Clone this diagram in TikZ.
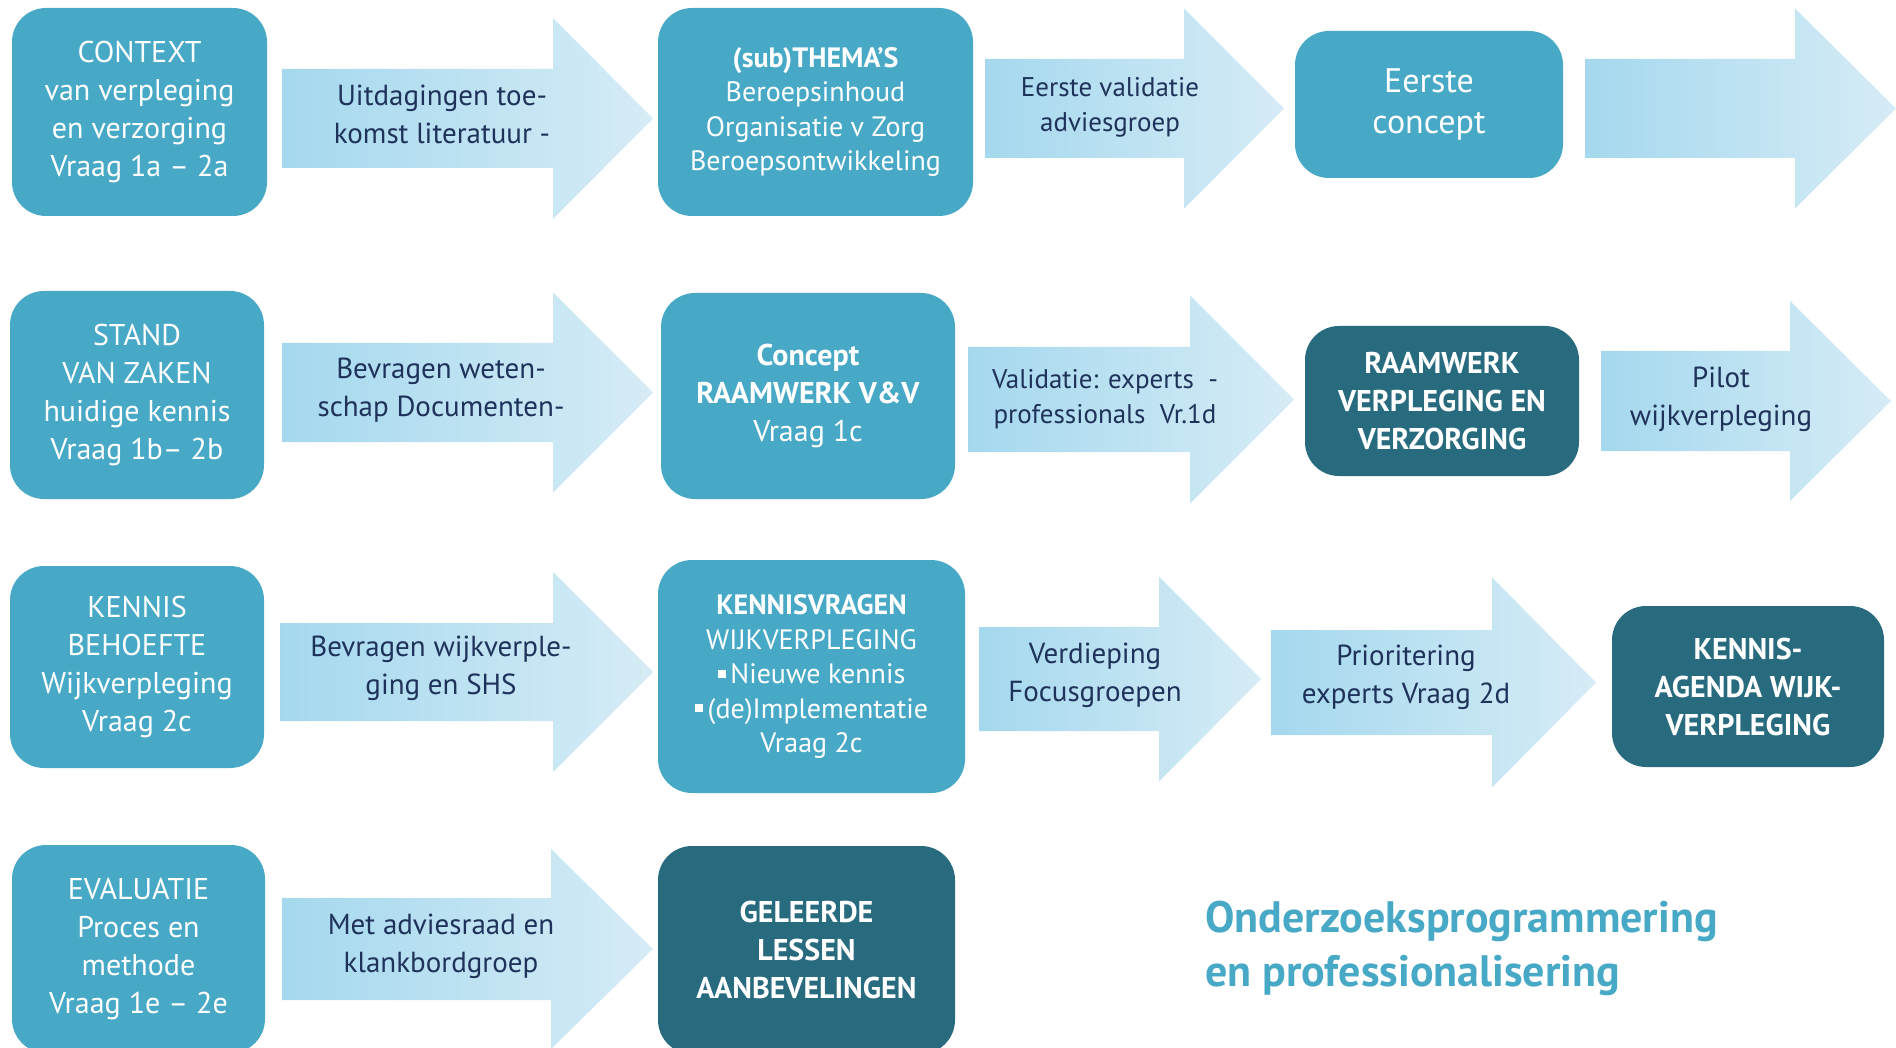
\documentclass[tikz,border=0pt]{standalone}
\usepackage{fontspec}
\setmainfont{PT Sans}
\usetikzlibrary{positioning}
\definecolor{box blue}{RGB}{72,169,199}
\definecolor{box dark}{RGB}{40,107,127}
\definecolor{arrow deep}{RGB}{165,216,238}
\definecolor{arrow pale}{RGB}{214,236,246}
\definecolor{arrow text}{RGB}{30,50,90}

% tail x, neck x, tip x, centre y, half body, half head
\newcommand{\flowarrow}[6]{%
	\path[flow arrow] (#1,#4-#5) -- (#2,#4-#5) -- (#2,#4-#6) -- (#3,#4)
		-- (#2,#4+#6) -- (#2,#4+#5) -- (#1,#4+#5) -- cycle;}
\newcommand{\sqbullet}{\raisebox{0.2em}{\rule{4pt}{4pt}}\,}

\begin{document}
\begin{tikzpicture}[x=0.5pt, y=-0.5pt,
					flow box/.style={rounded corners=17pt, fill=box blue, text=white, align=center, inner sep=0pt, font=\fontsize{15}{19}\selectfont},
					dark box/.style={flow box, fill=box dark, font=\bfseries\fontsize{15}{19}\selectfont},
					flow arrow/.style={left color=arrow deep, right color=arrow pale},
					arrow label/.style={text=arrow text, align=center, font=\fontsize{14.5}{19}\selectfont},
				]
					\useasboundingbox (0,0) rectangle (1896,1048);
					\clip (0,0) rectangle (1896,1048);
					
					% arrows
					\flowarrow{282}{553}{653}{118.5}{49.5}{100.5}
					\flowarrow{985}{1184}{1284}{108.5}{49.5}{100}
					\flowarrow{1585}{1795}{1896}{108.5}{49.5}{100}
					\flowarrow{282}{553}{653}{392.5}{49.5}{100}
					\flowarrow{968}{1190}{1294}{399.5}{52.5}{104}
					\flowarrow{1601}{1790}{1891}{401}{50}{100}
					\flowarrow{280}{553}{653}{672}{49}{100}
					\flowarrow{979}{1159}{1261}{679}{52}{102.5}
					\flowarrow{1271}{1492}{1596}{682.5}{52.5}{105}
					\flowarrow{282}{551}{653}{949}{51}{100}
					
					% boxes
					\node[flow box, minimum width=127.5pt, minimum height=104pt] (context) at (139.5,112) {CONTEXT\\van verpleging\\en verzorging\\Vraag 1a -- 2a};
					\node[flow box, minimum width=157.5pt, minimum height=104pt, font=\fontsize{14}{17.25}\selectfont] (themas) at (815.5,112) {\textbf{(sub)THEMA’S}\\Beroepsinhoud\\Organisatie v Zorg\\Beroepsontwikkeling};
					\node[flow box, minimum width=134pt, minimum height=73.5pt, font=\fontsize{17}{20.5}\selectfont] (eerste) at (1429,104.5) {Eerste\\concept};
					\node[flow box, minimum width=127pt, minimum height=104pt] (stand) at (137,395) {STAND\\VAN ZAKEN\\huidige kennis\\Vraag 1b-- 2b};
					\node[flow box, minimum width=147pt, minimum height=103pt] (concept) at (808,396) {\textbf{Concept}\\\textbf{RAAMWERK V\&V}\\Vraag 1c};
					\node[dark box, minimum width=137pt, minimum height=75pt] (raamwerk) at (1442,401) {RAAMWERK\\VERPLEGING EN\\VERZORGING};
					\node[flow box, minimum width=127pt, minimum height=101pt] (kennis) at (137,667) {KENNIS\\BEHOEFTE\\Wijkverpleging\\Vraag 2c};
					\node[flow box, minimum width=153.5pt, minimum height=116.5pt, font=\fontsize{14}{17.25}\selectfont] (vragen) at (811.5,676.5) {\textbf{KENNISVRAGEN}\\WIJKVERPLEGING\\\sqbullet Nieuwe kennis\\\sqbullet(de)Implementatie\\Vraag 2c};
					\node[dark box, minimum width=136pt, minimum height=80.5pt] (agenda) at (1748,686.5) {KENNIS-\\AGENDA WIJK-\\VERPLEGING};
					\node[flow box, minimum width=126.5pt, minimum height=104pt] (evaluatie) at (138.5,949) {EVALUATIE\\Proces en\\methode\\Vraag 1e -- 2e};
					\node[dark box, minimum width=148.5pt, minimum height=104pt] (geleerde) at (806.5,950) {GELEERDE\\LESSEN\\AANBEVELINGEN};
					
					% arrow labels
					\node[arrow label] (uitdagingen) at (442,114) {Uitdagingen toe-\\komst literatuur -};
					\node[arrow label, font=\fontsize{13.5}{17.5}\selectfont] (validatie) at (1110,107) {Eerste validatie\\adviesgroep};
					\node[arrow label] (bevragen) at (441,390) {Bevragen weten-\\schap Documenten-};
					\node[arrow label, font=\fontsize{13.5}{17.5}\selectfont] (experts) at (1105,399) {Validatie: experts~~-\\professionals~~Vr.1d};
					\node[arrow label] (pilot) at (1721,399) {Pilot\\wijkverpleging};
					\node[arrow label] (wijk) at (441,668) {Bevragen wijkverple-\\ging en SHS};
					\node[arrow label] (verdieping) at (1095,675) {Verdieping\\Focusgroepen};
					\node[arrow label] (prioritering) at (1406,677) {Prioritering\\experts Vraag 2d};
					\node[arrow label] (adviesraad) at (441,946) {Met adviesraad en\\klankbordgroep};
					
					\node[anchor=west, align=left, text=box blue, font=\bfseries\fontsize{22}{27}\selectfont] (titel) at (1198,948) {Onderzoeksprogrammering\\en professionalisering};
				\end{tikzpicture}
\end{document}
